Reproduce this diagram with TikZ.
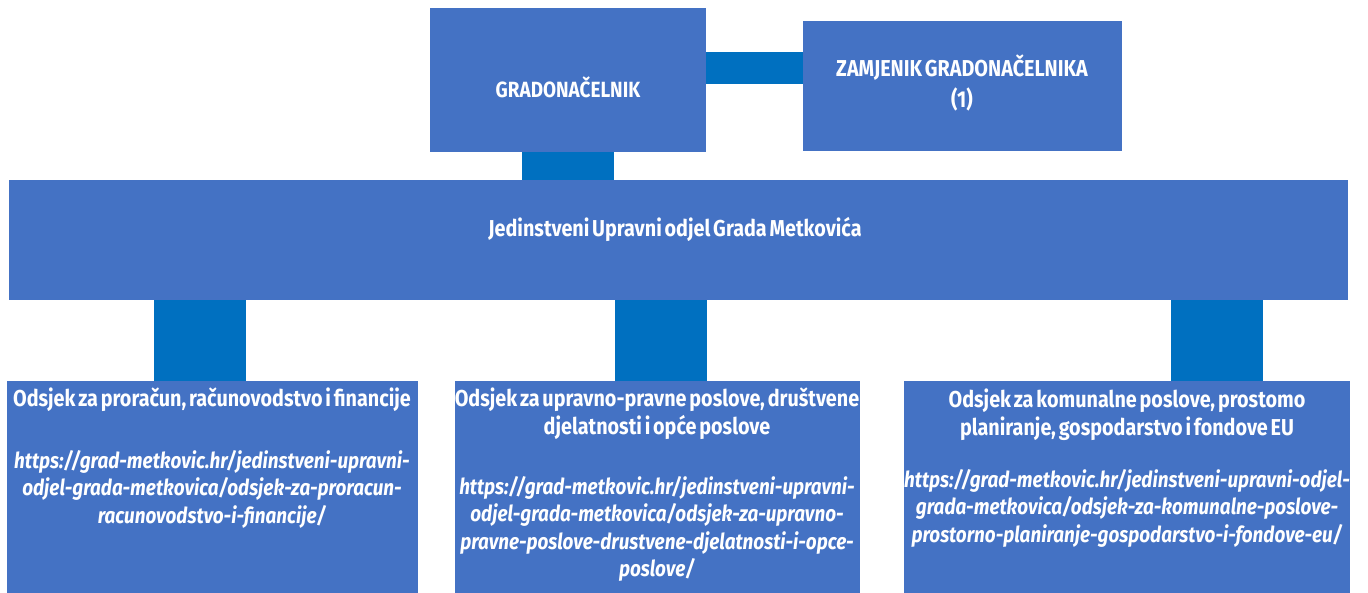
\documentclass[tikz,border=0pt]{standalone}
\usepackage{fontspec}
\newfontfamily\cond{Fira Sans}[FakeStretch=0.86,WordSpace=0.6]
\definecolor{boxblue}{RGB}{68,114,196}
\definecolor{barblue}{RGB}{0,112,192}
\begin{document}
\begin{tikzpicture}[x=1pt,y=-1pt,
  box/.style={fill=boxblue,draw=none,anchor=north west,inner sep=0pt},
  bar/.style={draw=barblue,line width=92pt},
  hbar/.style={draw=barblue,line width=32pt},
  txt/.style={text=white,align=center,inner sep=0pt,font=\cond\bfseries\fontsize{23}{28}\selectfont},
  url/.style={txt,font=\cond\bfseries\itshape\fontsize{22}{27.5}\selectfont}]
\useasboundingbox (0,0) rectangle (1368,592);
\fill[white] (0,0) rectangle (1368,592);
% boxes
\node[box,minimum width=276pt,minimum height=144pt] (g) at (430,8) {};
\node[box,minimum width=319pt,minimum height=130pt] (z) at (803,21) {};
\node[box,minimum width=1339pt,minimum height=120pt] (j) at (9,180) {};
\node[box,minimum width=411pt,minimum height=215pt] (b1) at (7,381) {};
\node[box,minimum width=405pt,minimum height=215pt] (b2) at (455,381) {};
\node[box,minimum width=446pt,minimum height=215pt] (b3) at (904,381) {};
% connectors
\draw[hbar] ([yshift=12pt]g.east) -- ([yshift=12pt]g.east -| z.west);
\draw[bar] (g.south) -- (g.south |- j.north);
\draw[bar] ([xshift=-13pt]b1.north) -- ([xshift=-13pt]b1.north |- j.south);
\draw[bar] ([xshift=3pt]b2.north) -- ([xshift=3pt]b2.north |- j.south);
\draw[bar] ([xshift=90pt]b3.north) -- ([xshift=90pt]b3.north |- j.south);
% texts
\node[txt,font=\cond\bfseries\fontsize{22}{30}\selectfont] (tg) at (568,87) {GRADONAČELNIK};
\node[txt,font=\cond\bfseries\fontsize{23}{31}\selectfont] (tz) at (962,83) {ZAMJENIK GRADONAČELNIKA\\(1)};
\node[txt] (tj) at (675,229) {Jedinstveni Upravni odjel Grada Metkovića};
\node[txt] (t1) at (212,400) {Odsjek za proračun, računovodstvo i financije};
\node[url] (u1) at (212,489) {https://grad-metkovic.hr/jedinstveni-upravni-\\odjel-grada-metkovica/odsjek-za-proracun-\\racunovodstvo-i-financije/};
\node[txt] (t2) at (657,414) {Odsjek za upravno-pravne poslove, društvene\\djelatnosti i opće poslove};
\node[url] (u2) at (657,529) {https://grad-metkovic.hr/jedinstveni-upravni-\\odjel-grada-metkovica/odsjek-za-upravno-\\pravne-poslove-drustvene-djelatnosti-i-opce-\\poslove/};
\node[txt] (t3) at (1127,415) {Odsjek za komunalne poslove, prostomo\\planiranje, gospodarstvo i fondove EU};
\node[url] (u3) at (1127,508) {https://grad-metkovic.hr/jedinstveni-upravni-odjel-\\grada-metkovica/odsjek-za-komunalne-poslove-\\prostorno-planiranje-gospodarstvo-i-fondove-eu/};
\end{tikzpicture}
\end{document}
